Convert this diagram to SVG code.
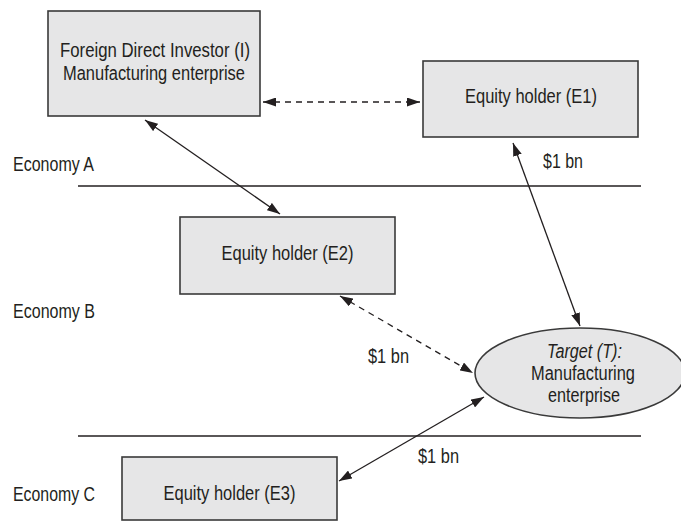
<svg xmlns="http://www.w3.org/2000/svg" width="681" height="532" viewBox="0 0 681 532">
<style>
text{font-family:"Liberation Sans",Arial,sans-serif;font-size:20px;fill:#231f20}
.c{text-anchor:middle}
.box{fill:#e6e6e7;stroke:#3a3a3a;stroke-width:1.6}
.ln{stroke:#231f20;stroke-width:1.3;fill:none}
.d{stroke-dasharray:6 5}
.sep{stroke:#231f20;stroke-width:1.4}
</style>
<defs>
<marker id="ah" viewBox="0 0 13 9" refX="13" refY="4.5" markerWidth="13" markerHeight="9" markerUnits="userSpaceOnUse" orient="auto-start-reverse">
<path d="M0,0 L13,4.5 L0,9 z" fill="#231f20"/>
</marker>
</defs>
<rect width="681" height="532" fill="#fff"/>
<g id="separators">
<line class="sep" x1="78" y1="186" x2="641" y2="186"/>
<line class="sep" x1="78" y1="436" x2="641" y2="436"/>
</g>
<g id="economy-labels">
<text x="13" y="171" textLength="81" lengthAdjust="spacingAndGlyphs">Economy A</text>
<text x="13" y="318" textLength="82" lengthAdjust="spacingAndGlyphs">Economy B</text>
<text x="13" y="501" textLength="82" lengthAdjust="spacingAndGlyphs">Economy C</text>
</g>
<g id="node-I">
<rect class="box" x="48" y="11" width="212" height="105"/>
<text class="c" x="155" y="57" textLength="190" lengthAdjust="spacingAndGlyphs">Foreign Direct Investor (I)</text>
<text class="c" x="154" y="80" textLength="182" lengthAdjust="spacingAndGlyphs">Manufacturing enterprise</text>
</g>
<g id="node-E1">
<rect class="box" x="423" y="61" width="215" height="76"/>
<text class="c" x="531" y="103" textLength="132" lengthAdjust="spacingAndGlyphs">Equity holder (E1)</text>
</g>
<g id="node-E2">
<rect class="box" x="180" y="217" width="215" height="77"/>
<text class="c" x="287.5" y="260" textLength="132" lengthAdjust="spacingAndGlyphs">Equity holder (E2)</text>
</g>
<g id="node-T">
<ellipse cx="580" cy="373" rx="105" ry="45" fill="#e6e6e7" stroke="#3a3a3a" stroke-width="1.6"/>
<text class="c" x="584.5" y="358" font-style="italic" textLength="75" lengthAdjust="spacingAndGlyphs">Target (T):</text>
<text class="c" x="583" y="380" textLength="104" lengthAdjust="spacingAndGlyphs">Manufacturing</text>
<text class="c" x="584" y="402" textLength="72" lengthAdjust="spacingAndGlyphs">enterprise</text>
</g>
<g id="node-E3">
<rect class="box" x="122" y="457" width="215" height="63"/>
<text class="c" x="229.5" y="500" textLength="132" lengthAdjust="spacingAndGlyphs">Equity holder (E3)</text>
</g>
<g id="connectors">
<line class="ln" x1="145" y1="120" x2="280" y2="214" marker-start="url(#ah)" marker-end="url(#ah)"/>
<line class="ln d" x1="263" y1="102" x2="420" y2="102" marker-start="url(#ah)" marker-end="url(#ah)"/>
<line class="ln" x1="513" y1="143" x2="580" y2="326" marker-start="url(#ah)" marker-end="url(#ah)"/>
<line class="ln d" x1="340" y1="296" x2="473" y2="373" marker-start="url(#ah)" marker-end="url(#ah)"/>
<line class="ln" x1="484" y1="397" x2="339" y2="481" marker-start="url(#ah)" marker-end="url(#ah)"/>
</g>
<g id="connector-labels">
<text x="543" y="168" textLength="40" lengthAdjust="spacingAndGlyphs">$1 bn</text>
<text x="368" y="363" textLength="41" lengthAdjust="spacingAndGlyphs">$1 bn</text>
<text x="418" y="463" textLength="41" lengthAdjust="spacingAndGlyphs">$1 bn</text>
</g>
</svg>
